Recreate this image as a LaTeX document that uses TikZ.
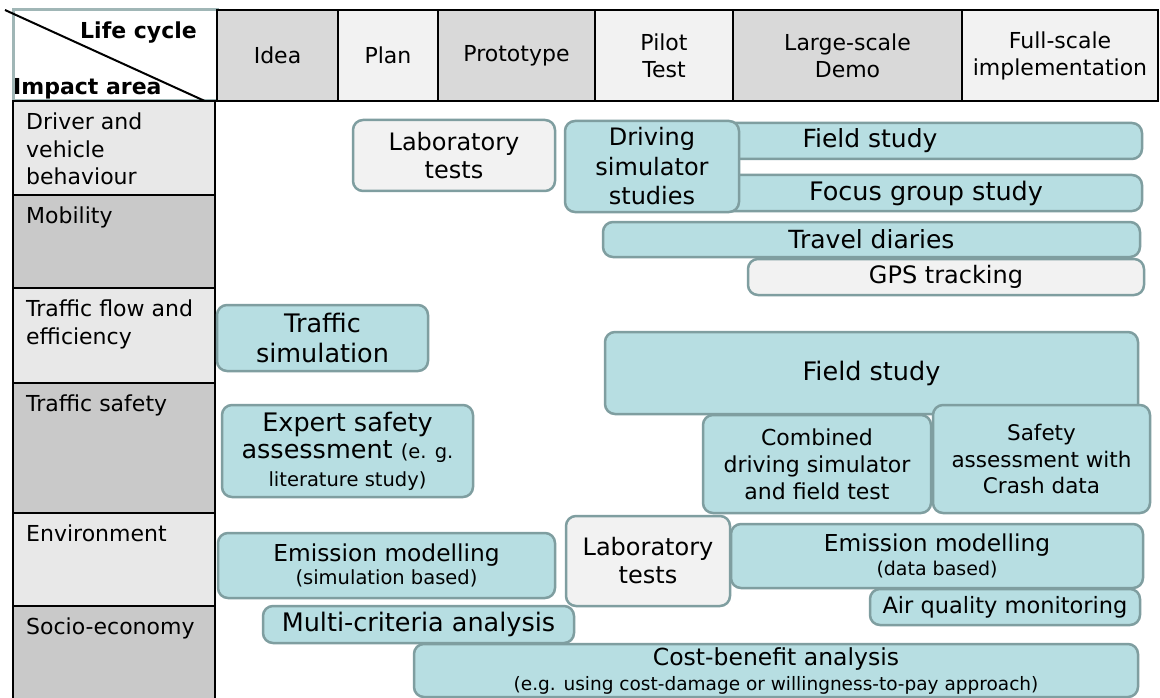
\documentclass[tikz,border=0pt]{standalone}
\usepackage{fontspec}
\setmainfont{DejaVu Sans}
\definecolor{hdrdark}{RGB}{217,217,217}
\definecolor{hdrlight}{RGB}{242,242,242}
\definecolor{rowlight}{RGB}{232,232,232}
\definecolor{rowdark}{RGB}{201,201,201}
\definecolor{tealfill}{RGB}{183,222,226}
\definecolor{tealline}{RGB}{127,158,160}
\definecolor{greybox}{RGB}{242,242,242}
\definecolor{cornerline}{RGB}{160,182,182}
\newcommand{\fsz}[2]{\fontsize{#1}{#2}\selectfont}
\begin{document}
\begin{tikzpicture}[x=1pt,y=-1pt,
every node/.style={%
anchor=center,
inner sep=1pt,
},
hcell/.style={draw,line width=1.5pt,minimum height=91pt,align=center,font=\fsz{22}{27}},
rcell/.style={draw,line width=1.5pt,minimum width=202pt},
rtext/.style={anchor=north west,inner sep=0pt,align=left,font=\fsz{22}{27.5}},
tbox/.style={draw=tealline,fill=tealfill,line width=2.5pt,rounded corners=10pt,align=center},
gbox/.style={tbox,fill=greybox}
]
\useasboundingbox[fill=white](0,0)rectangle(1160,698);
% header row
\node[draw=cornerline,fill=white,line width=3pt,minimum width=204pt,minimum height=91pt]at(115,55.5)(corner){};
\coordinate(diagA)at(5,10);
\coordinate(diagB)at(207,102);
\draw[line width=2pt](diagA)--(diagB);
\node[anchor=base east,font=\bfseries\fsz{22}{27}]at(198,39)(lc){Life cycle};
\node[anchor=base west,font=\bfseries\fsz{22}{27}]at(12,95)(ia){Impact area};
\node[hcell,fill=hdrdark,minimum width=121pt]at(277.5,55.5)(idea){Idea};
\node[hcell,fill=hdrlight,minimum width=100pt]at(388,55.5)(plan){Plan};
\node[hcell,fill=hdrdark,minimum width=157pt]at(516.5,55.5)(proto){Prototype};
\node[hcell,fill=hdrlight,minimum width=138pt]at(664,55.5)(pilot){Pilot\\Test};
\node[hcell,fill=hdrdark,minimum width=229pt]at(847.5,55.5)(demo){Large-scale\\Demo};
\node[hcell,fill=hdrlight,minimum width=196pt]at(1060,55.5)(full){Full-scale\\implementation};
% impact areas
\node[rcell,fill=rowlight,minimum height=94pt]at(114,148)(drv){};
\node[rcell,fill=rowdark,minimum height=93pt]at(114,241.5)(mob){};
\node[rcell,fill=rowlight,minimum height=95pt]at(114,335.5)(flow){};
\node[rcell,fill=rowdark,minimum height=130pt]at(114,448)(saf){};
\node[rcell,fill=rowlight,minimum height=93pt]at(114,559.5)(env){};
\node[rcell,fill=rowdark,minimum height=94pt]at(114,653)(soc){};
\node[rtext]at(26,113)(drvT){Driver and\\vehicle\\behaviour};
\node[rtext]at(26,207)(mobT){Mobility};
\node[rtext]at(26,300)(flowT){Traffic flow and\\efficiency};
\node[rtext]at(26,395)(safT){Traffic safety};
\node[rtext]at(26,525)(envT){Environment};
\node[rtext]at(26,618)(socT){Socio-economy};
% methods
\node[tbox,minimum width=544pt,minimum height=36pt,font=\fsz{25}{29}]at(870,141)(fieldA){Field study};
\node[tbox,minimum width=432pt,minimum height=36pt,font=\fsz{25.5}{29}]at(926,193)(focus){Focus group study};
\node[tbox,minimum width=174pt,minimum height=91pt,font=\fsz{24}{29.5}]at(652,166.5)(drvsim){Driving\\simulator\\studies};
\node[gbox,minimum width=202pt,minimum height=71pt,font=\fsz{24}{28}]at(454,155.5)(labA){Laboratory\\tests};
\node[tbox,minimum width=537pt,minimum height=35pt,font=\fsz{25}{29}]at(871.5,239.5)(diary){Travel diaries};
\node[gbox,minimum width=396pt,minimum height=36pt,font=\fsz{24}{29}]at(946,277)(gps){GPS tracking};
\node[tbox,minimum width=211pt,minimum height=66pt,font=\fsz{25.5}{30}]at(322.5,338)(trsim){Traffic\\simulation};
\node[tbox,minimum width=533pt,minimum height=82pt,font=\fsz{25.5}{29}]at(871.5,373)(fieldB){Field study};
\node[tbox,minimum width=228pt,minimum height=98pt,font=\fsz{22}{27}]at(817,464)(comb){Combined\\driving simulator\\and field test};
\node[tbox,minimum width=217pt,minimum height=108pt,font=\fsz{21.5}{26.5}]at(1041.5,459)(crash){Safety\\assessment with\\Crash data};
\node[tbox,minimum width=251pt,minimum height=92pt,font=\fsz{25.5}{27.5}]at(347.5,451)(expert){Expert safety\\assessment {\fsz{19.5}{24}(e. g.}\\{\fsz{19.5}{24}literature study)}};
\node[tbox,minimum width=337pt,minimum height=65pt,font=\fsz{23.3}{23}]at(386.5,565.5)(emsim){Emission modelling\\{\fsz{19.5}{23}(simulation based)}};
\node[gbox,minimum width=164pt,minimum height=90pt,font=\fsz{24}{28}]at(648,561)(labB){Laboratory\\tests};
\node[tbox,minimum width=412pt,minimum height=64pt,font=\fsz{23.3}{24}]at(937,556)(emdata){Emission modelling\\{\fsz{19}{24}(data based)}};
\node[tbox,minimum width=270pt,minimum height=36pt,font=\fsz{22.5}{27}]at(1005,607)(airq){Air quality monitoring};
\node[tbox,minimum width=311pt,minimum height=37pt,font=\fsz{25.5}{29}]at(418.5,624.5)(mca){Multi-criteria analysis};
\node[tbox,minimum width=724pt,minimum height=53pt,font=\fsz{23.5}{25}]at(776,670.5)(cba){Cost-benefit analysis\\{\fsz{18.5}{25}(e.g. using cost-damage or willingness-to-pay approach)}};
\end{tikzpicture}
\end{document}
